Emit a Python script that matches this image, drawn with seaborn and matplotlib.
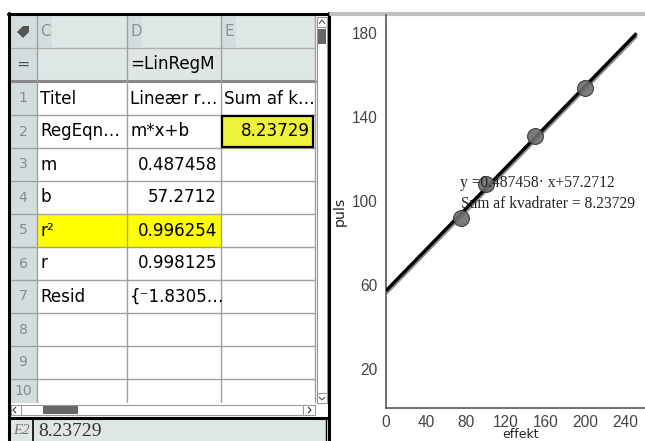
import numpy as np
import matplotlib
matplotlib.use("Agg")
import matplotlib.pyplot as plt
import seaborn as sns
from matplotlib.patches import Rectangle, Polygon

# Data
effekt = [75, 100, 150, 200]
puls = [92, 108, 131, 154]
m_coef = 0.487458
b_coef = 57.2712

col_letters = ["C", "D", "E"]
formula_row = ["", "=LinRegM", ""]
col_c = ["Titel", "RegEqn…", "m", "b", "r²", "r", "Resid", "", "", ""]
col_d = ["Lineær r…", "m*x+b", "0.487458", "57.2712", "0.996254", "0.998125", "{⁻1.8305…", "", "", ""]
col_e = ["Sum af k…", "8.23729", "", "", "", "", "", "", "", ""]
row_numbers = [str(i) for i in range(1, 11)]

x_ticks = [0, 40, 80, 120, 160, 200, 240]
y_ticks = [20, 60, 100, 140, 180]

sns.set_style("white")
plt.rcParams["font.family"] = ["DejaVu Sans"]

W, H = 645, 441
fig = plt.figure(figsize=(W / 100, H / 100), dpi=100)
bg = fig.add_axes([0, 0, 1, 1])
bg.set_xlim(0, W)
bg.set_ylim(H, 0)
bg.axis("off")

def pt(px):
    return px * 0.72

# ---- spreadsheet ----
col_x = [37, 127, 221, 315]
hdr_bg = "#dfe6e6"
num_bg = "#d3dddd"
grid_c = "#a0a0a0"
fs_cell = pt(16.8)

bg.add_patch(Rectangle((9, 15), 320, 426, fc="white", ec="none"))
bg.add_patch(Rectangle((9, 15), 306, 66, fc=hdr_bg, ec="none"))
row_top0 = 82
row_h = 33
bg.add_patch(Rectangle((9, 15), 28, 388, fc=num_bg, ec="none"))

# highlighted cells
bg.add_patch(Rectangle((col_x[0], row_top0 + 4 * row_h), col_x[2] - col_x[0], row_h, fc="#ffff00", ec="none"))
bg.add_patch(Rectangle((col_x[2] + 1, row_top0 + row_h + 1), col_x[3] - col_x[2] - 3, row_h - 2,
                       fc="#eef23c", ec="black", lw=1.6, zorder=3))

# grid lines
for i in range(1, 10):
    y = row_top0 + i * row_h
    bg.plot([9, 315], [y, y], color=grid_c, lw=1)
bg.plot([9, 315], [48, 48], color="#b0b0b0", lw=1)
bg.plot([9, 315], [81, 81], color="#888888", lw=2.2)
for x in col_x:
    bg.plot([x, x], [15, 403], color=grid_c, lw=1)

# column letters
for x0, lab in zip(col_x[:-1], col_letters):
    bg.add_patch(Rectangle((x0 + 1, 16), 14, 31, fc="#d4dddd", ec="none"))
    bg.text(x0 + 3, 32, lab, fontsize=pt(15), color="#909090", va="center", ha="left")
bg.add_patch(Polygon([[17, 32], [23, 26], [29, 26], [29, 32], [23, 38]], closed=True,
                     fc="#555555", ec="none"))
bg.text(23, 64, "=", fontsize=pt(16), color="#555555", va="center", ha="center")
bg.text(col_x[1] + 3, 64, formula_row[1], fontsize=fs_cell, color="black", va="center", ha="left")

for i in range(10):
    yc = row_top0 + i * row_h + row_h / 2
    if i == 9:
        yc = row_top0 + i * row_h + 12
    bg.text(23, yc, row_numbers[i], fontsize=pt(14), color="#8a8a8a", va="center", ha="center")
    bg.text(col_x[0] + 3, yc, col_c[i], fontsize=fs_cell, color="black", va="center", ha="left")
    d = col_d[i]
    if d:
        if d[0].isdigit():
            bg.text(col_x[2] - 4, yc, d, fontsize=fs_cell, color="black", va="center", ha="right")
        else:
            bg.text(col_x[1] + 3, yc, d, fontsize=fs_cell, color="black", va="center", ha="left")
    e = col_e[i]
    if e:
        if e[0].isdigit():
            bg.text(col_x[3] - 5, yc, e, fontsize=fs_cell, color="black", va="center", ha="right", zorder=4)
        else:
            bg.text(col_x[2] + 3, yc, e, fontsize=fs_cell, color="black", va="center", ha="left")

bg.add_patch(Rectangle((9, 403), 320, 15, fc="white", ec="none", zorder=3))

# vertical scrollbar
bg.add_patch(Rectangle((317, 17), 10, 386, fc="white", ec="#999999", lw=0.8, zorder=4))
bg.add_patch(Rectangle((318, 29), 8, 15, fc="#666666", ec="none", zorder=5))
bg.plot([317, 327], [27, 27], color="#999999", lw=0.8, zorder=5)
bg.plot([317, 327], [393, 393], color="#999999", lw=0.8, zorder=5)
bg.add_patch(Polygon([[319, 24], [322, 20], [325, 24]], closed=False, fill=False, ec="#555555", lw=0.8, zorder=5))
bg.add_patch(Polygon([[319, 397], [322, 400], [325, 397]], closed=False, fill=False, ec="#555555", lw=0.8, zorder=5))

# horizontal scrollbar
bg.add_patch(Rectangle((11, 405), 304, 10, fc="white", ec="#999999", lw=0.8, zorder=4))
bg.add_patch(Rectangle((43, 406), 35, 8, fc="#666666", ec="none", zorder=5))
bg.plot([21, 21], [405, 415], color="#999999", lw=0.8, zorder=5)
bg.plot([303, 303], [405, 415], color="#999999", lw=0.8, zorder=5)
bg.add_patch(Polygon([[16, 407], [13, 410], [16, 413]], closed=False, fill=False, ec="#333333", lw=0.8, zorder=5))
bg.add_patch(Polygon([[308, 407], [311, 410], [308, 413]], closed=False, fill=False, ec="#333333", lw=0.8, zorder=5))

# entry line
bg.add_patch(Rectangle((9, 419), 318, 22, fc="#dfe6e6", ec="none", zorder=3))
bg.plot([9, 329], [418, 418], color="black", lw=2.2, zorder=6)
bg.plot([33, 33], [419, 441], color="black", lw=1.2, zorder=6)
bg.plot([326, 326], [419, 441], color="black", lw=1.0, zorder=6)
bg.text(21, 431, "E2", fontsize=pt(15), family="Liberation Serif", style="italic", color="#777777",
        va="center", ha="center", zorder=7)
bg.text(38, 431, "8.23729", fontsize=pt(19.5), family="Liberation Serif", color="#333333",
        va="center", ha="left", zorder=7)

# borders
bg.plot([9, 9], [13, 441], color="black", lw=2.2, zorder=6)
bg.plot([329, 329], [13, 441], color="black", lw=2.2, zorder=6)
bg.plot([8, 330], [14, 14], color="black", lw=2.2, zorder=6)
bg.plot([331, 645], [13.5, 13.5], color="#c0c0c0", lw=3, zorder=6)

# ---- graph ----
ax = fig.add_axes([386 / W, (H - 408) / H, (W - 386) / W, (408 - 15) / H])
ax.set_xlim(0, 251.5)
ax.set_ylim(1.4, 188.6)

xs = np.array([0, 251.5])
ax.plot(xs, m_coef * xs + b_coef - 1.2, color="#8a8a8a", lw=2.6, solid_capstyle="butt", zorder=2)
ax.plot(xs, m_coef * xs + b_coef, color="black", lw=2.4, solid_capstyle="butt", zorder=3)
sns.scatterplot(x=effekt, y=puls, ax=ax, s=130, color="#6e6e6e", edgecolor="#333333",
                linewidth=0.8, alpha=0.9, zorder=4, legend=False)

ax.text(74.5, 108.7, "y =0.487458· x+57.2712", family="Liberation Serif", fontsize=pt(15.5),
        color="#222222", va="center", ha="left", zorder=5)
ax.text(75, 98.6, "Sum af kvadrater = 8.23729", family="Liberation Serif", fontsize=pt(15.5),
        color="#222222", va="center", ha="left", zorder=5)

for s in ["top", "right"]:
    ax.spines[s].set_visible(False)
for s in ["left", "bottom"]:
    ax.spines[s].set_color("#555555")
    ax.spines[s].set_linewidth(1.2)
ax.set_xticks(x_ticks)
ax.set_xticks([t + 20 for t in x_ticks], minor=True)
ax.set_yticks(y_ticks)
ax.set_yticks([t + 20 for t in y_ticks[:-1]], minor=True)
ax.tick_params(axis="both", which="both", direction="out", color="#555555", length=4, width=1,
               labelsize=pt(15.5), labelcolor="#444444", pad=2)
ax.tick_params(axis="x", which="major", pad=1)
ax.tick_params(axis="both", which="minor", length=3)
for lab in ax.get_xticklabels() + ax.get_yticklabels():
    lab.set_family("Liberation Sans")
ax.set_xlabel("effekt", fontsize=pt(12.5), color="#222222")
ax.xaxis.label.set_va("bottom")
ax.xaxis.set_label_coords(0.52, -(H - 408) / (408 - 15))
ax.set_ylabel("puls", fontsize=pt(14), color="#222222", labelpad=4)
ax.patch.set_alpha(0)

fig.savefig("out.png", dpi=100)
